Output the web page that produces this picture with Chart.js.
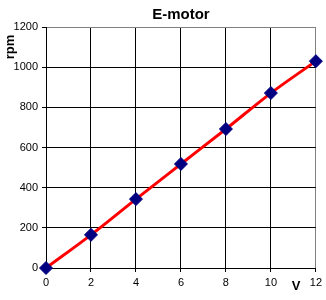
<!DOCTYPE html>
<html>
<head>
<meta charset="utf-8">
<script src="https://cdn.jsdelivr.net/npm/chart.js@4"></script>
<style>
html,body{margin:0;padding:0;background:#fff;}
#wrap{width:326px;height:300px;}
</style>
</head>
<body>
<div id="wrap"><canvas id="c" width="326" height="300"></canvas></div>
<script>
const voltages = [0, 2, 4, 6, 8, 10, 12];
const rpmValues = [0, 165, 343, 518, 692, 871, 1030];
const chartTitle = "E-motor";
const yTitle = "rpm";
const xTitle = "V";

const points = voltages.map((v, i) => ({x: v, y: rpmValues[i]}));
const FONT = "'Liberation Sans', Arial, sans-serif";

const labelPlugin = {
  id: 'labels',
  afterDraw(chart) {
    const ctx = chart.ctx;
    const a = chart.chartArea;
    ctx.save();
    ctx.fillStyle = '#000';
    ctx.font = "bold 15px " + FONT;
    ctx.textAlign = 'center';
    ctx.textBaseline = 'middle';
    ctx.fillText(chartTitle, (a.left + a.right) / 2, 15);
    ctx.font = "bold 13px " + FONT;
    ctx.fillText(xTitle, 296, 286);
    ctx.translate(10, 47);
    ctx.rotate(-Math.PI / 2);
    ctx.fillText(yTitle, 0, 0);
    ctx.restore();
  }
};

new Chart(document.getElementById('c'), {
  type: 'scatter',
  data: {
    datasets: [{
      data: points,
      showLine: true,
      clip: false,
      borderColor: '#ff0000',
      borderWidth: 3,
      tension: 0.3,
      cubicInterpolationMode: 'monotone',
      pointStyle: 'rectRot',
      pointRadius: 6.5,
      pointBorderWidth: 1,
      pointBackgroundColor: '#000080',
      pointBorderColor: '#000080'
    }]
  },
  options: {
    responsive: false,
    animation: false,
    devicePixelRatio: 1,
    layout: {padding: {top: 27, right: 9, left: 0, bottom: 0}},
    plugins: {legend: {display: false}, tooltip: {enabled: false}, title: {display: false}},
    scales: {
      x: {
        type: 'linear',
        min: 0, max: 12,
        ticks: {stepSize: 2, color: '#000', font: {family: FONT, size: 11}, padding: 4, maxRotation: 0,
                callback: (v) => String(v)},
        grid: {
          color: (c) => c.tick && c.tick.value === 12 ? '#808080' : '#000',
          lineWidth: 1,
          tickLength: 4,
          tickColor: '#000'
        },
        border: {color: '#000', width: 1},
        afterFit: (s) => { s.height = 32; }
      },
      y: {
        type: 'linear',
        min: 0, max: 1200,
        ticks: {stepSize: 200, color: '#000', font: {family: FONT, size: 11}, padding: 4,
                callback: (v) => String(v)},
        grid: {
          color: (c) => c.tick && c.tick.value === 1200 ? '#808080' : '#000',
          lineWidth: 1,
          tickLength: 4,
          tickColor: '#000'
        },
        border: {color: '#000', width: 1},
        afterFit: (s) => { s.width = 46; }
      }
    }
  },
  plugins: [labelPlugin]
});
</script>
</body>
</html>
